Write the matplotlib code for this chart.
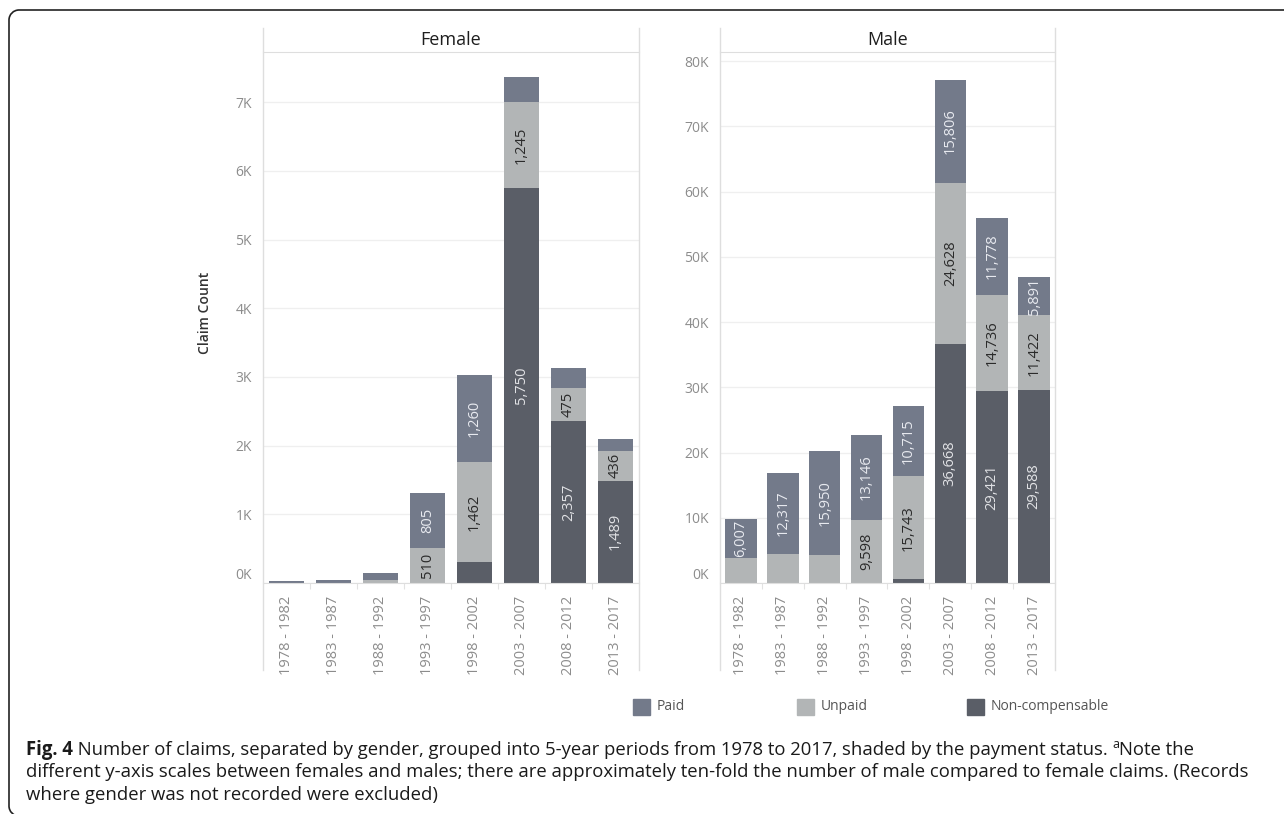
import matplotlib
matplotlib.use("Agg")
from matplotlib import pyplot as plt
from matplotlib.patches import Rectangle, PathPatch
from matplotlib.path import Path
from matplotlib.lines import Line2D
import numpy as np

plt.rcParams['font.family'] = ['Open Sans', 'DejaVu Sans']

# data
periods = ['1978 - 1982', '1983 - 1987', '1988 - 1992', '1993 - 1997',
           '1998 - 2002', '2003 - 2007', '2008 - 2012', '2013 - 2017']
female_noncomp = [0, 0, 0, 0, 300, 5750, 2357, 1489]
female_unpaid = [5, 5, 40, 510, 1462, 1245, 475, 436]
female_paid = [25, 40, 110, 805, 1260, 375, 300, 166]
male_noncomp = [0, 0, 0, 0, 600, 36668, 29421, 29588]
male_unpaid = [3800, 4480, 4300, 9598, 15743, 24628, 14736, 11422]
male_paid = [6007, 12317, 15950, 13146, 10715, 15806, 11778, 5891]
female_ticks = [0, 1000, 2000, 3000, 4000, 5000, 6000, 7000]
male_ticks = [0, 10000, 20000, 30000, 40000, 50000, 60000, 70000, 80000]
status = ['Paid', 'Unpaid', 'Non-compensable']

c_paid = '#737a8a'
c_unpaid = '#b2b5b6'
c_noncomp = '#5a5e67'
txt_col = {'paid': '#e8eaf0', 'unpaid': '#2a2a2a', 'noncomp': '#e2e3e6'}
grid_col = '#efefef'
border_col = '#dedede'
tick_col = '#8c8c8c'

W, H = 1284, 814
fig = plt.figure(figsize=(W / 100, H / 100), dpi=100)


def fx(px):
    return px / W


def fy(py):
    return 1 - py / H


def panel(left, right, title, noncomp, unpaid, paid, ticks, ymax, min_lab):
    ax = fig.add_axes([fx(left), fy(583), (right - left) / W, (583 - 52) / H])
    x = np.arange(len(periods))
    nc = np.array(noncomp)
    up = np.array(unpaid)
    pd_ = np.array(paid)
    ax.bar(x, nc, width=0.75, color=c_noncomp, zorder=2)
    ax.bar(x, up, width=0.75, bottom=nc, color=c_unpaid, zorder=2)
    ax.bar(x, pd_, width=0.75, bottom=nc + up, color=c_paid, zorder=2)
    # segment labels
    for i in x:
        for val, base, key in [(nc[i], 0, 'noncomp'), (up[i], nc[i], 'unpaid'),
                               (pd_[i], nc[i] + up[i], 'paid')]:
            if val >= min_lab:
                ax.text(i, base + val / 2, '{:,}'.format(int(val)), rotation=90,
                        ha='center', va='center', fontsize=10.5,
                        color=txt_col[key], zorder=3)
    ax.set_xlim(-0.5, len(periods) - 0.5)
    ax.set_ylim(0, ymax)
    ax.set_yticks(ticks)
    ax.set_yticklabels(['{:d}K'.format(t // 1000) for t in ticks])
    ax.set_xticks(x)
    ax.set_xticklabels(periods, rotation=90, va='top')
    ax.set_xticks(x[:-1] + 0.5, minor=True)
    ax.tick_params(axis='y', length=0, pad=8, labelsize=10, labelcolor=tick_col)
    ax.tick_params(axis='x', which='major', length=0, pad=9, labelsize=10.5,
                   labelcolor=tick_col)
    ax.tick_params(axis='x', which='minor', length=4, color='#e2e2e2', width=0.8)
    ax.yaxis.grid(True, color=grid_col, lw=0.9, zorder=0)
    ax.set_axisbelow(True)
    ax.yaxis.get_majorticklabels()[0].set_va('bottom')
    for s in ['left', 'right']:
        ax.spines[s].set_visible(False)
    ax.spines['top'].set_color(border_col)
    ax.spines['bottom'].set_color(border_col)
    # panel borders running through header and tick area
    for px in (left, right):
        fig.add_artist(Line2D([fx(px), fx(px)], [fy(28), fy(670)],
                              transform=fig.transFigure, color=border_col, lw=1))
    fig.text(fx((left + right) / 2), fy(40), title, ha='center', va='center',
             fontsize=13, color='#1e1e1e')
    return ax


panel(263, 639, 'Female', female_noncomp, female_unpaid, female_paid,
      female_ticks, 7730, 400)
panel(720, 1055, 'Male', male_noncomp, male_unpaid, male_paid,
      male_ticks, 81400, 5000)

fig.text(fx(205), fy(313), 'Claim Count', rotation=90, ha='center', va='center',
         fontsize=10, color='#333333', fontweight='semibold')

# legend
leg = [(633, status[0], c_paid), (797, status[1], c_unpaid), (967, status[2], c_noncomp)]
for px, lab, col in leg:
    fig.add_artist(Rectangle((fx(px), fy(715)), 17 / W, 16 / H, color=col,
                             transform=fig.transFigure))
    fig.text(fx(px + 24), fy(707), lab, ha='left', va='center', fontsize=10,
             color='#555555')

# outer frame: top edge, left edge, rounded corners (pixel units)
rr = 10
x0, top, bot = 9, 10, 816
k = 0.5523 * rr
verts = [(W + 5, top), (x0 + rr, top),
         (x0 + rr - k, top), (x0, top + rr - k), (x0, top + rr),
         (x0, bot - rr),
         (x0, bot - rr + k), (x0 + rr - k, bot), (x0 + rr, bot),
         (W + 5, bot)]
codes = [Path.MOVETO, Path.LINETO, Path.CURVE4, Path.CURVE4, Path.CURVE4,
         Path.LINETO, Path.CURVE4, Path.CURVE4, Path.CURVE4, Path.LINETO]
verts = [(fx(a), fy(b)) for a, b in verts]
fig.add_artist(PathPatch(Path(verts, codes), fill=False, edgecolor='#222222',
                         lw=1.2, transform=fig.transFigure))

# caption
r = fig.canvas.get_renderer()
cap_kw = dict(fontsize=13.35, color='#1a1a1a', va='baseline', ha='left')
t = fig.text(fx(26), fy(755), 'Fig. 4', fontweight='bold', **cap_kw)
x1 = t.get_window_extent(r).x1
t = fig.text(x1 / W, fy(755), ' Number of claims, separated by gender, grouped into '
             '5-year periods from 1978 to 2017, shaded by the payment status. ',
             **cap_kw)
x1 = t.get_window_extent(r).x1
t = fig.text(x1 / W, fy(748), 'a', fontsize=9, color='#1a1a1a', va='baseline',
             ha='left')
x1 = t.get_window_extent(r).x1
fig.text(x1 / W, fy(755), 'Note the', **cap_kw)
fig.text(fx(26), fy(777), 'different y-axis scales between females and males; there '
         'are approximately ten-fold the number of male compared to female claims. '
         '(Records', **cap_kw)
fig.text(fx(26), fy(800), 'where gender was not recorded were excluded)', **cap_kw)

fig.savefig('out.png', dpi=100)
